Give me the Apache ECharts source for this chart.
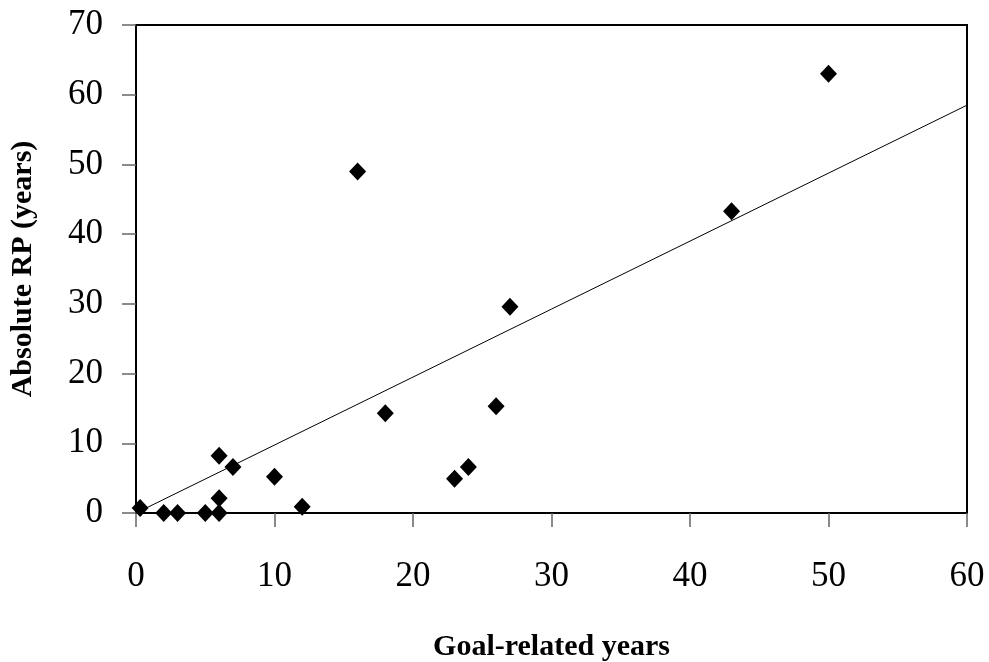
<!DOCTYPE html>
<html>
<head>
<meta charset="utf-8">
<script src="https://cdn.jsdelivr.net/npm/echarts@6/dist/echarts.min.js"></script>
<style>
html,body{margin:0;padding:0;background:#fff;}
#chart{width:989px;height:662px;}
</style>
</head>
<body>
<div id="chart"></div>
<script>
// Data
const goalYears = [0.3, 2, 3, 5, 6, 6, 6, 7, 10, 12, 16, 18, 23, 24, 26, 27, 43, 50];
const absoluteRP = [0.7, 0, 0, 0, 0, 2.1, 8.2, 6.6, 5.2, 0.9, 49, 14.3, 4.9, 6.6, 15.3, 29.6, 43.3, 63];
// Linear trendline (through origin) endpoints
const trendX = [0, 60];
const trendY = [0, 58.5];
const xTicks = [0, 10, 20, 30, 40, 50, 60];
const yTicks = [0, 10, 20, 30, 40, 50, 60, 70];
const xTitle = 'Goal-related years';
const yTitle = 'Absolute RP (years)';

const font = '"Liberation Serif", "Times New Roman", serif';
const chart = echarts.init(document.getElementById('chart'));
chart.setOption({
  animation: false,
  backgroundColor: '#fff',
  grid: {
    left: 136, right: 22, top: 25, bottom: 149,
    outerBoundsMode: 'none', containLabel: false,
    show: true, borderColor: '#000', borderWidth: 2, backgroundColor: 'transparent'
  },
  xAxis: {
    type: 'value',
    min: xTicks[0], max: xTicks[xTicks.length - 1], interval: 10,
    name: xTitle, nameLocation: 'middle', nameGap: 119,
    nameTextStyle: { fontFamily: font, fontWeight: 'bold', fontSize: 30, color: '#000' },
    axisLine: { show: true, lineStyle: { color: '#000', width: 2 } },
    axisTick: { show: true, inside: false, length: 14, lineStyle: { color: '#666', width: 1.5 } },
    axisLabel: { fontFamily: font, fontSize: 35, color: '#000', margin: 46 },
    splitLine: { show: false }
  },
  yAxis: {
    type: 'value',
    min: yTicks[0], max: yTicks[yTicks.length - 1], interval: 10,
    name: yTitle, nameLocation: 'middle', nameGap: 98, nameRotate: 90,
    nameTextStyle: { fontFamily: font, fontWeight: 'bold', fontSize: 30, color: '#000' },
    axisLine: { show: true, lineStyle: { color: '#000', width: 2 } },
    axisTick: { show: true, inside: false, length: 14, lineStyle: { color: '#666', width: 1.5 } },
    axisLabel: { fontFamily: font, fontSize: 35, color: '#000', margin: 33, padding: [12, 0, 0, 0] },
    splitLine: { show: false }
  },
  series: [
    {
      type: 'line',
      data: trendX.map((x, i) => [x, trendY[i]]),
      symbol: 'none',
      lineStyle: { color: '#000', width: 1 },
      silent: true,
      z: 1
    },
    {
      type: 'scatter',
      data: goalYears.map((x, i) => [x, absoluteRP[i]]),
      symbol: 'diamond',
      symbolSize: [17, 18],
      itemStyle: { color: '#000', opacity: 1 },
      z: 3
    }
  ]
});
</script>
</body>
</html>
